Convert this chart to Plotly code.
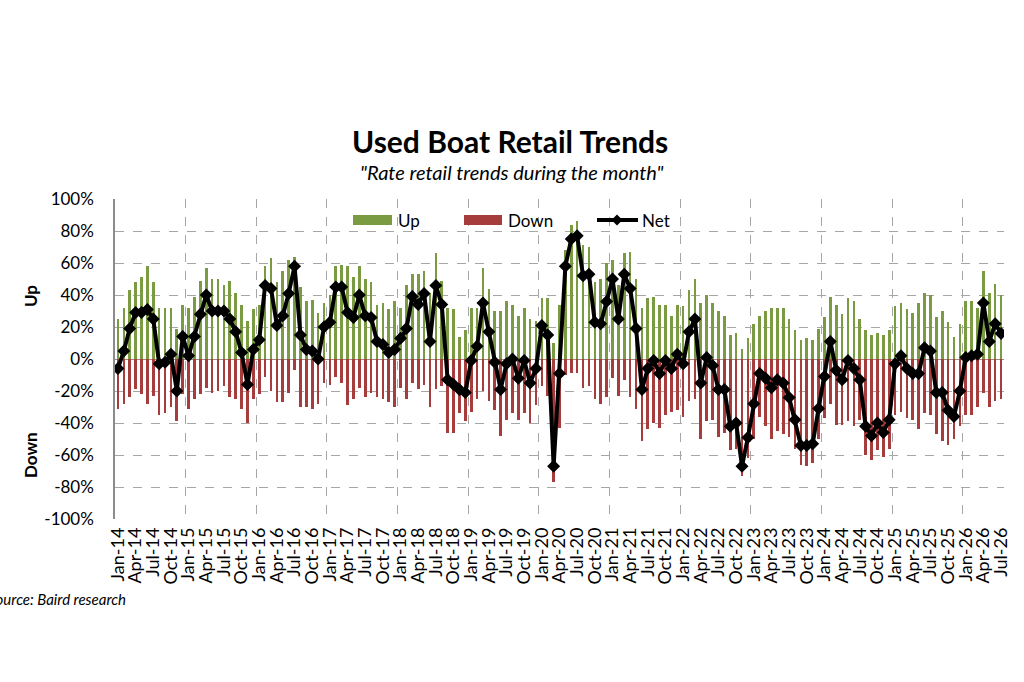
import plotly.graph_objects as go

# ---- Data (monthly, Jan-14 .. Jul-26) ----
years = list(range(14, 27))
month_names = ["Jan", "Feb", "Mar", "Apr", "May", "Jun", "Jul", "Aug", "Sep", "Oct", "Nov", "Dec"]
months = [f"{m}-{y}" for y in years for m in month_names][:151]

up = [
    25, 32, 43, 48, 51, 58, 48, 32, 32, 32, 19, 34,   # 2014
    32, 39, 49, 57, 50, 50, 46, 49, 41, 34, 24, 31,   # 2015
    34, 58, 63, 48, 55, 62, 64, 45, 36, 37, 29, 35,   # 2016
    40, 58, 59, 58, 51, 58, 50, 48, 34, 35, 31, 36,   # 2017
    32, 46, 53, 53, 55, 41, 66, 49, 32, 31, 14, 18,   # 2018
    32, 32, 57, 44, 30, 30, 36, 34, 27, 32, 25, 24,   # 2019
    38, 38, 10, 34, 68, 84, 86, 71, 70, 48, 50, 60,   # 2020
    62, 46, 66, 67, 50, 32, 38, 39, 34, 34, 27, 34,   # 2021
    33, 43, 50, 35, 40, 35, 30, 27, 15, 16, 6, 13,    # 2022
    22, 27, 30, 32, 32, 32, 25, 18, 12, 13, 12, 19,   # 2023
    26, 39, 34, 28, 38, 36, 25, 18, 15, 16, 15, 18,   # 2024
    33, 35, 31, 29, 35, 41, 40, 26, 30, 23, 14, 22,   # 2025
    36, 36, 32, 55, 41, 47, 40,                       # 2026
]
down = [
    -31, -28, -24, -19, -22, -28, -23, -35, -34, -30, -39, -22,
    -31, -25, -22, -18, -21, -20, -17, -24, -25, -31, -40, -25,
    -22, -11, -20, -27, -27, -21, -7, -30, -30, -31, -28, -15,
    -16, -11, -15, -29, -25, -18, -24, -21, -24, -25, -27, -30,
    -18, -25, -15, -19, -16, -30, -19, -17, -46, -46, -34, -39,
    -33, -25, -20, -26, -32, -48, -38, -34, -38, -34, -40, -29,
    -17, -23, -77, -43, -10, -9, -9, -18, -17, -25, -28, -24,
    -12, -23, -13, -24, -31, -51, -44, -40, -43, -35, -33, -32,
    -36, -26, -25, -50, -39, -38, -49, -46, -57, -56, -73, -62,
    -50, -36, -42, -50, -45, -47, -49, -56, -66, -67, -65, -50,
    -37, -28, -41, -41, -39, -42, -38, -60, -63, -57, -61, -56,
    -35, -33, -37, -38, -44, -34, -35, -47, -51, -54, -50, -42,
    -35, -35, -30, -21, -30, -26, -25,
]
net = [
    -6, 5, 19, 29, 29, 31, 25, -3, -2, 3, -20, 14,
    2, 14, 28, 40, 30, 30, 30, 25, 17, 4, -16, 6,
    12, 46, 44, 21, 27, 41, 58, 15, 6, 5, 0, 20,
    23, 45, 45, 29, 26, 40, 27, 26, 11, 9, 4, 6,
    13, 19, 39, 34, 41, 11, 46, 34, -13, -16, -19, -21,
    -1, 8, 35, 17, -2, -19, -3, 0, -12, -1, -15, -6,
    21, 15, -67, -9, 58, 75, 77, 52, 53, 23, 22, 36,
    50, 25, 53, 44, 19, -19, -6, -1, -9, -1, -6, 3,
    -3, 17, 25, -15, 1, -4, -19, -19, -42, -40, -67, -49,
    -28, -9, -12, -18, -13, -15, -24, -38, -54, -54, -53, -31,
    -11, 11, -7, -13, -1, -6, -13, -42, -48, -40, -46, -38,
    -3, 2, -6, -9, -9, 7, 5, -21, -21, -32, -36, -20,
    1, 2, 3, 35, 11, 22, 16,
]
y_ticks = [-100, -80, -60, -40, -20, 0, 20, 40, 60, 80, 100]
y_tick_labels = [f"{v}%" for v in y_ticks]

idx = list(range(len(months)))
tick_idx = idx[::3]
tick_text = months[::3]
year_starts = [i - 0.5 for i in idx if months[i].startswith("Jan")]

FONT = "Lato, 'Liberation Sans', sans-serif"
GREEN = "#7a9b42"
RED = "#a63c3c"

# plot area in page pixels
L, R, T, B = 115, 1004, 199, 519
W, H = R - L, B - T
def px(x):
    return (x - L) / W
def py(y):
    return (B - y) / H

fig = go.Figure()
fig.add_trace(go.Bar(x=idx, y=up, name="Up", marker_color=GREEN, width=0.45,
                     marker_line_width=0, showlegend=False))
fig.add_trace(go.Bar(x=idx, y=down, name="Down", marker_color=RED, width=0.45,
                     marker_line_width=0, showlegend=False))
fig.add_trace(go.Scatter(x=idx, y=net, name="Net", mode="lines+markers",
                         line=dict(color="black", width=4),
                         marker=dict(symbol="diamond", size=10, color="black"),
                         showlegend=False))

# custom legend (decorations in paper coordinates)
leg_y = 220
shapes = [
    dict(type="rect", xref="paper", yref="paper", x0=px(353), x1=px(392),
         y0=py(leg_y + 5), y1=py(leg_y - 5), fillcolor=GREEN, line_width=0),
    dict(type="rect", xref="paper", yref="paper", x0=px(464), x1=px(502),
         y0=py(leg_y + 5), y1=py(leg_y - 5), fillcolor=RED, line_width=0),
    dict(type="line", xref="paper", yref="paper", x0=px(597), x1=px(638),
         y0=py(leg_y), y1=py(leg_y), line=dict(color="black", width=4)),
    dict(type="path", xref="paper", yref="paper",
         path=f"M {px(617)} {py(leg_y - 5.5)} L {px(622.5)} {py(leg_y)} "
              f"L {px(617)} {py(leg_y + 5.5)} L {px(611.5)} {py(leg_y)} Z",
         fillcolor="black", line_width=0),
]

annotations = [
    dict(text="<b>Used Boat Retail Trends</b>", xref="paper", yref="paper",
         x=px(510), y=py(141), xanchor="center", yanchor="middle",
         showarrow=False, font=dict(size=30, family=FONT)),
    dict(text="<i>\"Rate retail trends during the month\"</i>", xref="paper", yref="paper",
         x=px(511), y=py(172), xanchor="center", yanchor="middle",
         showarrow=False, font=dict(size=20, family=FONT)),
    dict(text="<b>Up</b>", xref="paper", yref="paper", x=px(30), y=py(296),
         textangle=-90, xanchor="center", yanchor="middle", showarrow=False,
         font=dict(size=17, family=FONT)),
    dict(text="<b>Down</b>", xref="paper", yref="paper", x=px(30), y=py(455),
         textangle=-90, xanchor="center", yanchor="middle", showarrow=False,
         font=dict(size=17, family=FONT)),
    dict(text="<i>Source: Baird research</i>", xref="paper", yref="paper",
         x=px(-14), y=py(599), xanchor="left", yanchor="middle",
         showarrow=False, font=dict(size=15, family=FONT)),
    dict(text="Up", xref="paper", yref="paper", x=px(396), y=py(leg_y),
         xanchor="left", yanchor="middle", showarrow=False, font=dict(size=17, family=FONT)),
    dict(text="Down", xref="paper", yref="paper", x=px(506), y=py(leg_y),
         xanchor="left", yanchor="middle", showarrow=False, font=dict(size=17, family=FONT)),
    dict(text="Net", xref="paper", yref="paper", x=px(640), y=py(leg_y),
         xanchor="left", yanchor="middle", showarrow=False, font=dict(size=17, family=FONT)),
]

fig.update_layout(
    width=1024, height=682,
    margin=dict(l=L, r=1024 - R, t=T, b=682 - B),
    paper_bgcolor="white", plot_bgcolor="white",
    barmode="relative", bargap=0,
    font=dict(family=FONT, color="black"),
    showlegend=False,
    xaxis=dict(
        range=[-0.5, len(months) - 0.5],
        tickmode="array", tickvals=tick_idx, ticktext=tick_text,
        tickangle=-90, tickfont=dict(size=18), showgrid=False,
        showline=False, zeroline=False, ticks="", ticklabelstandoff=4,
        minor=dict(tickmode="array", tickvals=year_starts, showgrid=True,
                   gridcolor="#a6a6a6", griddash="dash", gridwidth=1, ticks=""),
    ),
    yaxis=dict(
        range=[-100, 100], tickmode="array", tickvals=y_ticks, ticktext=y_tick_labels,
        tickfont=dict(size=17),
        showgrid=True, gridcolor="#a6a6a6", griddash="dash", gridwidth=1,
        zeroline=True, zerolinecolor="#9e8a80", zerolinewidth=1,
        showline=True, linecolor="#8c8c8c", linewidth=1.5,
        ticks="", ticklabelstandoff=16,
    ),
    shapes=shapes,
    annotations=annotations,
)

fig.write_html("out.html", config={"displayModeBar": False},
               post_script="document.body.style.margin='0';")
